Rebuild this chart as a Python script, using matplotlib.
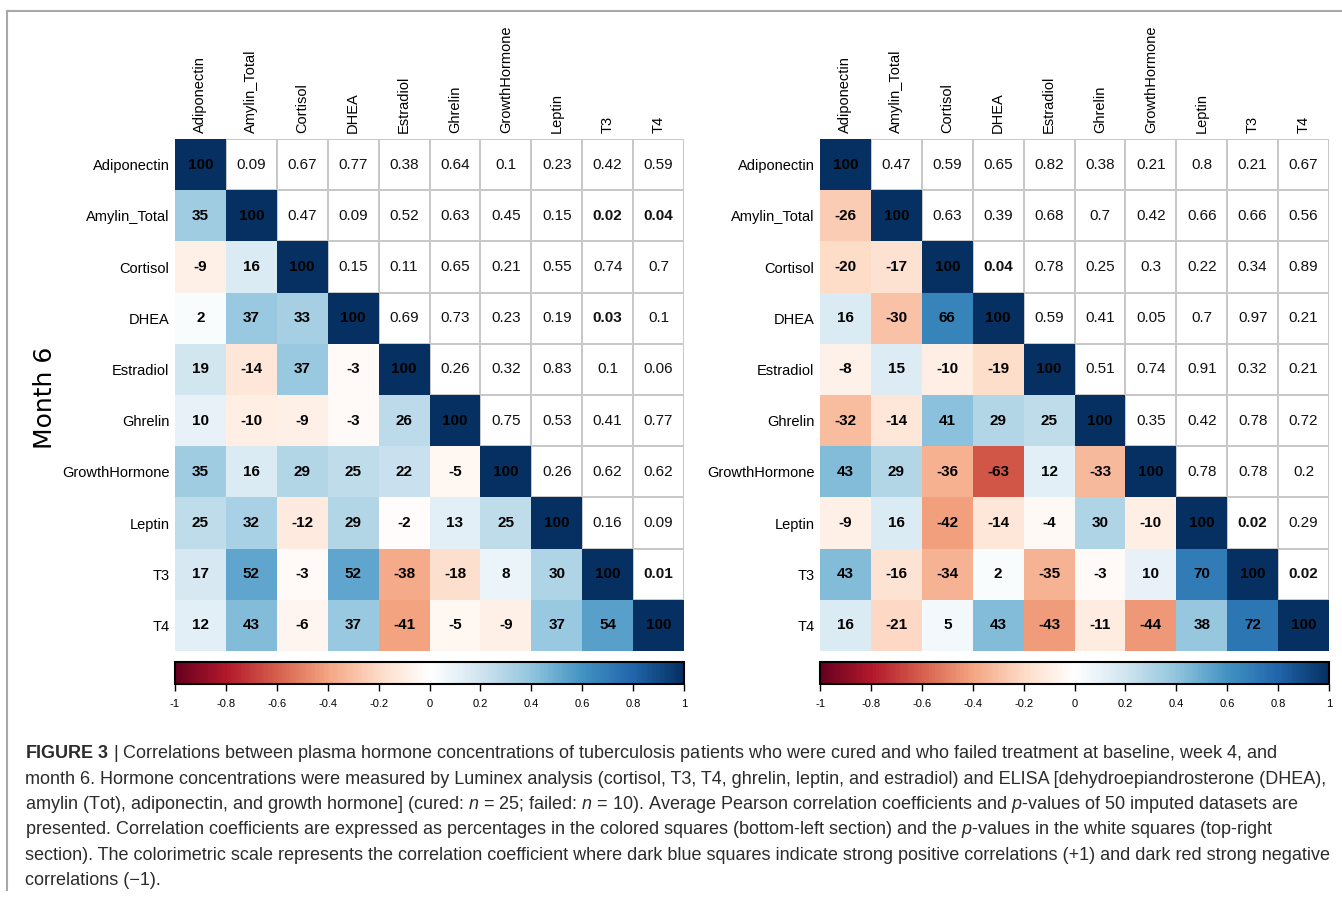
import numpy as np
import matplotlib
matplotlib.use('Agg')
import matplotlib.pyplot as plt
from matplotlib.colors import LinearSegmentedColormap, ListedColormap, Normalize
from matplotlib.cm import ScalarMappable
from matplotlib.lines import Line2D
from matplotlib import font_manager

hormones = ['Adiponectin', 'Amylin_Total', 'Cortisol', 'DHEA', 'Estradiol',
            'Ghrelin', 'GrowthHormone', 'Leptin', 'T3', 'T4']

# correlation (%) below the diagonal, one list per row starting at Amylin_Total
cured_r = [
    [35],
    [-9, 16],
    [2, 37, 33],
    [19, -14, 37, -3],
    [10, -10, -9, -3, 26],
    [35, 16, 29, 25, 22, -5],
    [25, 32, -12, 29, -2, 13, 25],
    [17, 52, -3, 52, -38, -18, 8, 30],
    [12, 43, -6, 37, -41, -5, -9, 37, 54],
]
# p-values above the diagonal, one list per row starting at Adiponectin
cured_p = [
    [0.09, 0.67, 0.77, 0.38, 0.64, 0.1, 0.23, 0.42, 0.59],
    [0.47, 0.09, 0.52, 0.63, 0.45, 0.15, 0.02, 0.04],
    [0.15, 0.11, 0.65, 0.21, 0.55, 0.74, 0.7],
    [0.69, 0.73, 0.23, 0.19, 0.03, 0.1],
    [0.26, 0.32, 0.83, 0.1, 0.06],
    [0.75, 0.53, 0.41, 0.77],
    [0.26, 0.62, 0.62],
    [0.16, 0.09],
    [0.01],
]

failed_r = [
    [-26],
    [-20, -17],
    [16, -30, 66],
    [-8, 15, -10, -19],
    [-32, -14, 41, 29, 25],
    [43, 29, -36, -63, 12, -33],
    [-9, 16, -42, -14, -4, 30, -10],
    [43, -16, -34, 2, -35, -3, 10, 70],
    [16, -21, 5, 43, -43, -11, -44, 38, 72],
]
failed_p = [
    [0.47, 0.59, 0.65, 0.82, 0.38, 0.21, 0.8, 0.21, 0.67],
    [0.63, 0.39, 0.68, 0.7, 0.42, 0.66, 0.66, 0.56],
    [0.04, 0.78, 0.25, 0.3, 0.22, 0.34, 0.89],
    [0.59, 0.41, 0.05, 0.7, 0.97, 0.21],
    [0.51, 0.74, 0.91, 0.32, 0.21],
    [0.35, 0.42, 0.78, 0.72],
    [0.78, 0.78, 0.2],
    [0.02, 0.29],
    [0.02],
]

cbar_ticks = [-1, -0.8, -0.6, -0.4, -0.2, 0, 0.2, 0.4, 0.6, 0.8, 1]

caption = [
    r"$\bf{FIGURE\ 3}$ | Correlations between plasma hormone concentrations of tuberculosis patients who were cured and who failed treatment at baseline, week 4, and",
    r"month 6. Hormone concentrations were measured by Luminex analysis (cortisol, T3, T4, ghrelin, leptin, and estradiol) and ELISA [dehydroepiandrosterone (DHEA),",
    r"amylin (Tot), adiponectin, and growth hormone] (cured: $n$ = 25; failed: $n$ = 10). Average Pearson correlation coefficients and $p$-values of 50 imputed datasets are",
    r"presented. Correlation coefficients are expressed as percentages in the colored squares (bottom-left section) and the $p$-values in the white squares (top-right",
    r"section). The colorimetric scale represents the correlation coefficient where dark blue squares indicate strong positive correlations (+1) and dark red strong negative",
    r"correlations (−1).",
]

available = {f.name for f in font_manager.fontManager.ttflist}
cell_font = 'Liberation Sans Narrow' if 'Liberation Sans Narrow' in available else 'Liberation Sans'

plt.rcParams['font.family'] = 'Liberation Sans'
plt.rcParams['mathtext.fontset'] = 'custom'
plt.rcParams['mathtext.rm'] = 'Liberation Sans'
plt.rcParams['mathtext.it'] = 'Liberation Sans:italic'
plt.rcParams['mathtext.bf'] = 'Liberation Sans:bold'

# corrplot style RdBu, white in the middle
rdbu = LinearSegmentedColormap.from_list('rdbu', [
    '#67001F', '#B2182B', '#D6604D', '#F4A582', '#FDDBC7', '#FFFFFF',
    '#D1E5F0', '#92C5DE', '#4393C3', '#2166AC', '#053061'], N=200)
norm = Normalize(-1, 1)


def build(r_rows, p_rows):
    n = len(hormones)
    corr = np.full((n, n), np.nan)
    pval = np.full((n, n), np.nan)
    for i in range(n):
        corr[i, i] = 100
    for i, row in enumerate(r_rows, start=1):
        corr[i, :len(row)] = row
    for i, row in enumerate(p_rows):
        pval[i, i + 1:] = row
    return corr, pval


def draw_matrix(ax, corr, pval):
    n = len(hormones)
    edges = np.arange(n + 1)
    ax.pcolormesh(edges, edges, np.ma.masked_invalid(pval * 0), cmap=ListedColormap(['white']),
                  edgecolors='#c8c8c8', linewidth=1.3)
    ax.pcolormesh(edges, edges, np.ma.masked_invalid(corr / 100), cmap=rdbu, norm=norm,
                  edgecolors='none')
    for i in range(n):
        for j in range(n):
            if j <= i:
                ax.text(j + 0.5, i + 0.5, '%d' % corr[i, j], ha='center', va='center',
                        fontsize=11, fontweight='bold', family=cell_font, color='black')
            else:
                p = pval[i, j]
                ax.text(j + 0.5, i + 0.5, '%g' % p, ha='center', va='center',
                        fontsize=11, family=cell_font, color='#111111',
                        fontweight='bold' if p < 0.05 else 'normal')
    ax.set_xlim(0, n)
    ax.set_ylim(n, 0)
    ax.set_xticks(np.arange(n) + 0.5)
    ax.set_yticks(np.arange(n) + 0.5)
    ax.xaxis.tick_top()
    ax.set_xticklabels(hormones, rotation=90, fontsize=10.5, family=cell_font)
    ax.set_yticklabels(hormones, fontsize=10.5, family=cell_font)
    ax.tick_params(length=0, pad=4)
    for s in ax.spines.values():
        s.set_visible(False)


def draw_cbar(fig, rect):
    cax = fig.add_axes(rect)
    cb = fig.colorbar(ScalarMappable(norm=norm, cmap=rdbu), cax=cax, orientation='horizontal')
    cb.set_ticks(cbar_ticks)
    cb.set_ticklabels(['%g' % t for t in cbar_ticks])
    cb.outline.set_linewidth(1.5)
    cax.tick_params(length=5, width=1, labelsize=8, direction='out', pad=6)


W, H = 1342, 897
fig = plt.figure(figsize=(W / 100, H / 100), dpi=100)

panels = [(175, cured_r, cured_p), (820, failed_r, failed_p)]
for x0, r_rows, p_rows in panels:
    corr, pval = build(r_rows, p_rows)
    ax = fig.add_axes([x0 / W, 1 - 651 / H, 509 / W, 512 / H])
    draw_matrix(ax, corr, pval)
    draw_cbar(fig, [x0 / W, 1 - 684 / H, 509 / W, 22 / H])

fig.text(45 / W, 1 - 398 / H, 'Month 6', rotation=90, fontsize=18, ha='center', va='center',
         family='DejaVu Sans')

# frame around the figure panel
fig.add_artist(Line2D([7 / W, 1], [1 - 11 / H, 1 - 11 / H], color='#a8a8a8', linewidth=1.5))
fig.add_artist(Line2D([7 / W, 7 / W], [1 - 11 / H, 1 - 890 / H], color='#a8a8a8', linewidth=1.5))

for k, line in enumerate(caption):
    fig.text(25 / W, 1 - (754 + 25.3 * k) / H, line, fontsize=13, color='#2b2b2b',
             ha='left', va='center')

fig.savefig('out.png', dpi=100)
